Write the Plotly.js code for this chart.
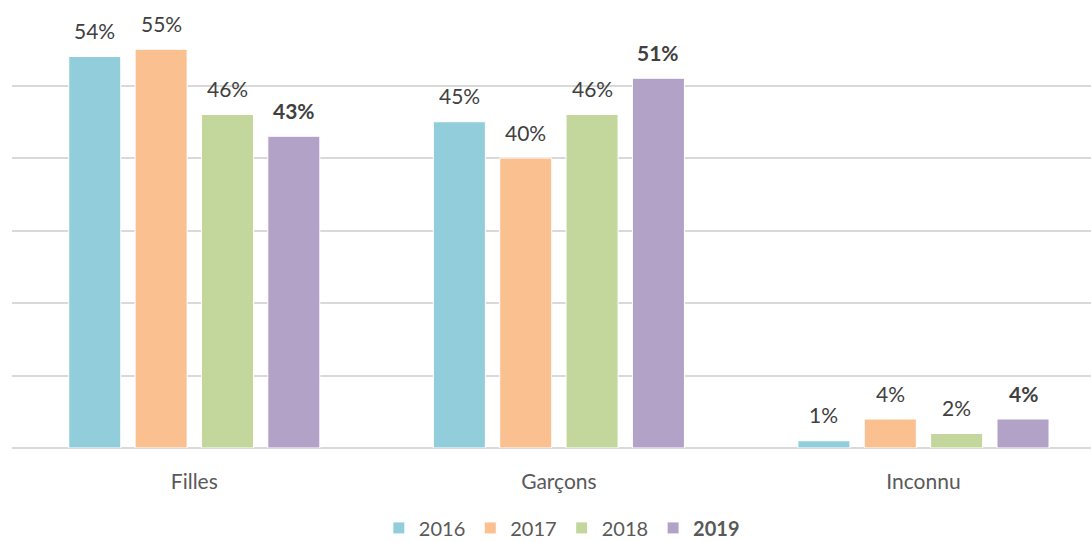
<!DOCTYPE html>
<html>
<head>
<meta charset="utf-8">
<script src="https://cdn.plot.ly/plotly-3.0.1.min.js"></script>
<style>html,body{margin:0;padding:0;background:#fff;}#chart{width:1091px;height:542px;}</style>
</head>
<body>
<div id="chart"></div>
<script>
const categories = ["Filles", "Garçons", "Inconnu"];
const years = ["2016", "2017", "2018", "2019"];
const v2016 = [0.54, 0.45, 0.01];
const v2017 = [0.55, 0.40, 0.04];
const v2018 = [0.46, 0.46, 0.02];
const v2019 = [0.43, 0.51, 0.04];
const seriesValues = [v2016, v2017, v2018, v2019];
const colors = ["#92CDDC", "#FAC090", "#C3D69B", "#B3A2C7"];
const boldYear = "2019";

const FONT = "Lato, 'Open Sans', sans-serif";
const BARGAP = 0.272;
const BARGROUPGAP = 0.216;

const traces = years.map((y, i) => ({
  type: "bar",
  name: y === boldYear ? "<b>" + y + "</b>" : y,
  x: categories,
  y: seriesValues[i],
  marker: {color: colors[i], line: {color: "#ffffff", width: 1}},
  hoverinfo: "skip"
}));

const annotations = [];
years.forEach((y, i) => {
  const offset = (i - (years.length - 1) / 2) * (1 - BARGAP) / years.length;
  seriesValues[i].forEach((v, j) => {
    const label = Math.round(v * 100) + "%";
    annotations.push({
      xref: "x", yref: "y",
      x: j + offset, y: v,
      text: y === boldYear ? "<b>" + label + "</b>" : label,
      showarrow: false,
      yanchor: "middle",
      yshift: 26,
      font: {family: FONT, size: 21, color: "#404040"}
    });
  });
});

const layout = {
  width: 1091, height: 542,
  margin: {l: 12, r: 0, t: 13, b: 94},
  paper_bgcolor: "#ffffff",
  plot_bgcolor: "#ffffff",
  barmode: "group",
  bargap: BARGAP,
  bargroupgap: BARGROUPGAP,
  font: {family: FONT, size: 21, color: "#595959"},
  showlegend: true,
  legend: {
    orientation: "h",
    xref: "container", yref: "container",
    x: 0.515, xanchor: "center",
    y: 0.026, yanchor: "middle",
    font: {family: FONT, size: 20, color: "#595959"},
    itemwidth: 30,
    traceorder: "normal"
  },
  xaxis: {
    type: "category",
    range: [-0.5, 2.4595],
    showgrid: false,
    ticks: "",
    showline: false,
    zeroline: false,
    ticklabelstandoff: 19,
    tickfont: {family: FONT, size: 21, color: "#595959"},
    fixedrange: true
  },
  yaxis: {
    range: [0, 0.6],
    dtick: 0.1,
    tick0: 0,
    showticklabels: false,
    ticks: "",
    showgrid: true,
    gridcolor: "#d9d9d9",
    gridwidth: 2,
    zeroline: true,
    zerolinecolor: "#d9d9d9",
    zerolinewidth: 2,
    showline: false,
    fixedrange: true
  },
  annotations: annotations
};

Plotly.newPlot("chart", traces, layout, {displayModeBar: false, staticPlot: true});
</script>
</body>
</html>
